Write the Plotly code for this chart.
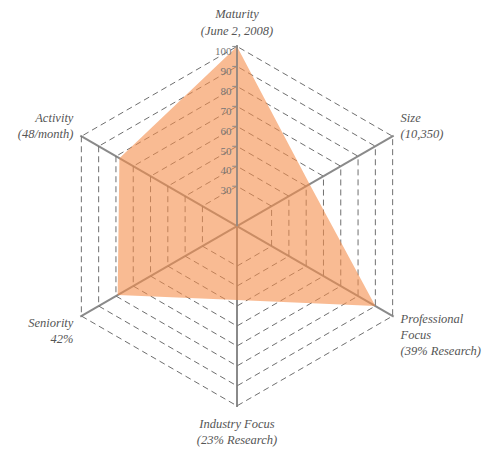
import plotly.graph_objects as go

# axis labels (clockwise from the top)
categories = [
    "Maturity<br>(June 2, 2008)",
    "Size<br>(10,350)",
    "Professional<br>Focus<br>(39% Research)",
    "Industry Focus<br>(23% Research)",
    "Seniority<br>42%",
    "Activity<br>(48/month)",
]
scores = [100, 52, 90, 47, 79, 78]
radial_ticks = [30, 40, 50, 60, 70, 80, 90, 100]

spoke = "#8a8a8a"
dash_col = "#6f6f6f"
serif = "Liberation Serif"

fig = go.Figure()
fig.add_trace(
    go.Scatterpolar(
        r=scores + scores[:1],
        theta=categories + categories[:1],
        mode="lines",
        fill="toself",
        fillcolor="rgba(245,142,75,0.6)",
        line=dict(width=0, color="rgba(245,142,75,0.6)"),
        hoverinfo="skip",
    )
)
# radial tick labels, hung just under each ring on the top spoke
fig.add_trace(
    go.Scatterpolar(
        r=radial_ticks,
        theta=[categories[0]] * len(radial_ticks),
        mode="text",
        text=[str(v) + "\u00a0\u00a0" for v in radial_ticks],
        textposition="bottom left",
        textfont=dict(family=serif, size=11, color="#767676"),
        hoverinfo="skip",
    )
)

fig.update_layout(
    width=500,
    height=454,
    margin=dict(l=0, r=0, t=0, b=0),
    paper_bgcolor="white",
    showlegend=False,
    polar=dict(
        domain=dict(x=[0.096, 0.82], y=[0.121, 0.918]),
        bgcolor="rgba(0,0,0,0)",
        gridshape="linear",
        angularaxis=dict(
            direction="clockwise",
            rotation=90,
            showline=False,
            gridcolor=spoke,
            gridwidth=1.5,
            ticks="outside",
            ticklen=5,
            tickcolor="rgba(0,0,0,0)",
            tickfont=dict(family=serif, size=12.5, color="#555555", style="italic"),
            layer="above traces",
        ),
        radialaxis=dict(
            range=[10, 100.6],
            tickvals=radial_ticks,
            angle=90,
            side="counterclockwise",
            showticklabels=False,
            showline=True,
            linecolor=spoke,
            linewidth=1.5,
            ticks="outside",
            ticklen=4,
            tickcolor=spoke,
            gridcolor=dash_col,
            griddash="6px,4px",
            gridwidth=1.2,
            layer="above traces",
        ),
    ),
)

fig.write_html("out.html")
